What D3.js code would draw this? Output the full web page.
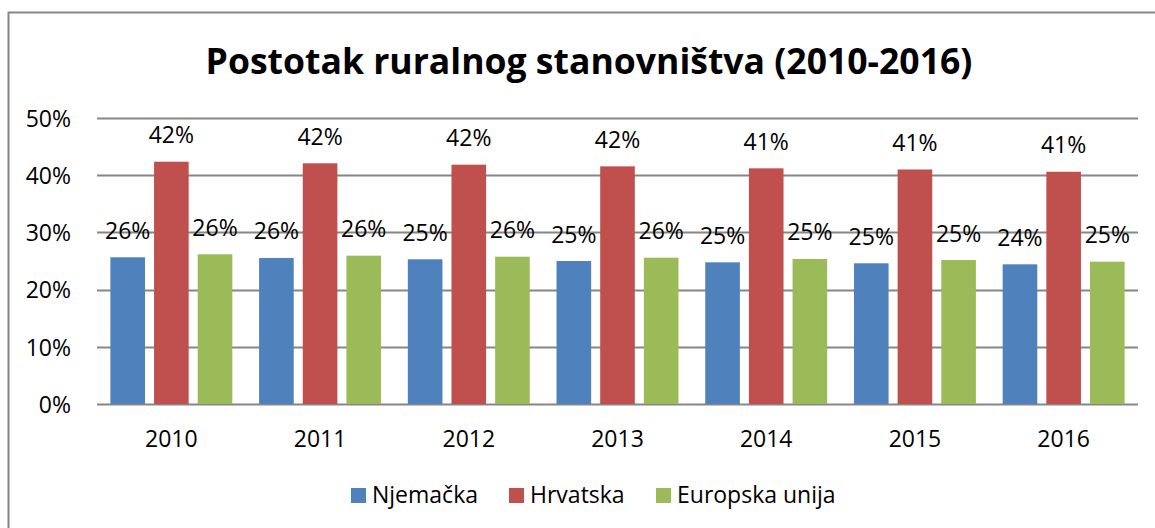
<!DOCTYPE html>
<html>
<head>
<meta charset="utf-8">
<script src="https://cdn.jsdelivr.net/npm/d3@7"></script>
<style>
  body { margin: 0; background: #fff; }
  svg text { font-family: "Open Sans", "Noto Sans", sans-serif; fill: #000; }
</style>
</head>
<body>
<script>
const years = ["2010", "2011", "2012", "2013", "2014", "2015", "2016"];
const seriesNames = ["Njemačka", "Hrvatska", "Europska unija"];
const colors = ["#4F81BD", "#C0504D", "#9BBB59"];
const njemacka = [0.2565, 0.2553, 0.2530, 0.2500, 0.2477, 0.2460, 0.2442];
const hrvatska = [0.4236, 0.4208, 0.4184, 0.4155, 0.4120, 0.4100, 0.4060];
const eu = [0.2617, 0.2593, 0.2575, 0.2558, 0.2535, 0.2517, 0.2488];
const yTicks = [0, 0.1, 0.2, 0.3, 0.4, 0.5];
const title = "Postotak ruralnog stanovništva (2010-2016)";

const W = 1155, H = 528;
const margin = {top: 118, right: 17, bottom: 124, left: 97},
      width = W - margin.left - margin.right,
      height = H - margin.top - margin.bottom;
const fs = "23px";

const seriesValues = [njemacka, hrvatska, eu];
const data = years.map(function(y, i) {
  return {year: y, values: seriesNames.map(function(s, j) {
    return {name: s, idx: j, value: seriesValues[j][i]};
  })};
});

const svg = d3.select("body").append("svg")
  .attr("width", W)
  .attr("height", H);

// outer frame (runs off the right and bottom edge)
svg.append("path")
  .attr("d", "M8.5," + H + "V12.5H" + W)
  .attr("fill", "none")
  .attr("stroke", "#868686")
  .attr("stroke-width", 2);

// title, scaled to the reference width
const t = svg.append("text")
  .attr("x", 589)
  .attr("y", 74)
  .attr("text-anchor", "middle")
  .style("font-weight", "bold")
  .style("font-size", "32px")
  .text(title);
const tw = t.node().getComputedTextLength();
t.style("font-size", (32 * 767 / tw).toFixed(2) + "px");

const g = svg.append("g")
  .attr("transform", "translate(" + margin.left + "," + margin.top + ")");

const x0 = d3.scaleBand()
  .domain(years)
  .range([0, width]);
const x1 = d3.scaleBand()
  .domain(seriesNames)
  .range([x0.bandwidth() * 0.09, x0.bandwidth() * 0.91])
  .paddingInner(0.207);
const y = d3.scaleLinear()
  .domain([0, 0.5])
  .range([height, 0]);

// gridlines
g.selectAll(".grid")
  .data(yTicks)
  .enter()
  .append("line")
  .attr("class", "grid")
  .attr("x1", 0)
  .attr("x2", width)
  .attr("y1", function(d) { return Math.round(y(d)) + 0.5; })
  .attr("y2", function(d) { return Math.round(y(d)) + 0.5; })
  .attr("stroke", "#868686")
  .attr("stroke-width", 2);

// y axis labels
const yAxis = d3.axisLeft(y)
  .tickValues(yTicks)
  .tickFormat(d3.format(".0%"))
  .tickSize(0)
  .tickPadding(26);
g.append("g")
  .attr("class", "axis y")
  .call(yAxis)
  .call(function(s) { s.select(".domain").remove(); })
  .selectAll("text")
  .style("font-size", fs)
  .attr("dy", "0.36em");

// x axis labels
const xAxis = d3.axisBottom(x0)
  .tickSize(0)
  .tickPadding(27);
g.append("g")
  .attr("class", "axis x")
  .attr("transform", "translate(0," + height + ")")
  .call(xAxis)
  .call(function(s) { s.select(".domain").remove(); })
  .selectAll("text")
  .style("font-size", fs);

// bars
const groups = g.selectAll(".year")
  .data(data)
  .enter()
  .append("g")
  .attr("class", "year")
  .attr("transform", function(d) { return "translate(" + x0(d.year) + ",0)"; });

groups.selectAll("rect")
  .data(function(d) { return d.values; })
  .enter()
  .append("rect")
  .attr("x", function(d) { return x1(d.name); })
  .attr("width", x1.bandwidth())
  .attr("y", function(d) { return y(d.value); })
  .attr("height", function(d) { return height - y(d.value); })
  .attr("fill", function(d) { return colors[d.idx]; });

groups.selectAll(".lbl")
  .data(function(d) { return d.values; })
  .enter()
  .append("text")
  .attr("class", "lbl")
  .attr("x", function(d) { return x1(d.name) + x1.bandwidth() / 2; })
  .attr("y", function(d) { return y(d.value) - 18.5; })
  .attr("text-anchor", "middle")
  .style("font-size", fs)
  .text(function(d) { return d3.format(".0%")(d.value); });

// legend
const legendX = [351, 509, 656];
const legend = svg.selectAll(".legend")
  .data(seriesNames)
  .enter()
  .append("g")
  .attr("class", "legend")
  .attr("transform", function(d, i) { return "translate(" + legendX[i] + ",488)"; });
legend.append("rect")
  .attr("width", 15)
  .attr("height", 15)
  .attr("fill", function(d, i) { return colors[i]; });
legend.append("text")
  .attr("x", 21)
  .attr("y", 15)
  .style("font-size", fs)
  .text(function(d) { return d; });
</script>
</body>
</html>
